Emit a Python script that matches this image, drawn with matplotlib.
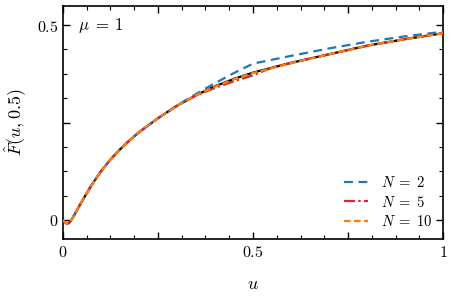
import numpy as np
import matplotlib
matplotlib.use("Agg")
import matplotlib.pyplot as plt
from matplotlib.ticker import MultipleLocator, FixedLocator, FuncFormatter

plt.rcParams['mathtext.fontset'] = 'cm'
plt.rcParams['font.family'] = 'serif'
plt.rcParams['font.serif'] = ['DejaVu Serif']

# exact curve
u_exact = [0.0, 0.005, 0.01, 0.015, 0.02, 0.03, 0.04, 0.05, 0.075, 0.1, 0.125, 0.15, 0.175,
           0.2, 0.25, 0.3, 0.35, 0.4, 0.45, 0.5, 0.6, 0.7, 0.8, 0.9, 1.0]
F_exact = [0.0, -0.006, -0.009, -0.008, -0.003, 0.013, 0.031, 0.048, 0.089, 0.125, 0.155, 0.181, 0.204,
           0.225, 0.261, 0.293, 0.32, 0.343, 0.362, 0.378, 0.403, 0.425, 0.447, 0.464, 0.479]

# N = 2
u_N2 = [0.0, 0.005, 0.01, 0.015, 0.02, 0.03, 0.04, 0.05, 0.075, 0.1, 0.125, 0.15, 0.175,
        0.2, 0.25, 0.3, 0.35, 0.4, 0.45, 0.5, 0.6, 0.7, 0.8, 0.9, 1.0]
F_N2 = [0.0, -0.006, -0.009, -0.008, -0.003, 0.013, 0.031, 0.048, 0.089, 0.125, 0.155, 0.181, 0.204,
        0.225, 0.261, 0.294, 0.323, 0.351, 0.377, 0.401, 0.421, 0.44, 0.457, 0.471, 0.483]

# N = 5
u_N5 = [0.0, 0.005, 0.01, 0.015, 0.02, 0.03, 0.04, 0.05, 0.075, 0.1, 0.125, 0.15, 0.175,
        0.2, 0.25, 0.3, 0.35, 0.4, 0.45, 0.5, 0.55, 0.6, 0.7, 0.8, 0.9, 1.0]
F_N5 = [0.0, -0.006, -0.009, -0.008, -0.003, 0.013, 0.031, 0.048, 0.089, 0.125, 0.155, 0.181, 0.204,
        0.225, 0.261, 0.293, 0.319, 0.339, 0.356, 0.371, 0.391, 0.403, 0.425, 0.447, 0.464, 0.479]

# N = 10
u_N10 = u_exact
F_N10 = [0.0, -0.006, -0.009, -0.008, -0.003, 0.013, 0.031, 0.048, 0.089, 0.125, 0.155, 0.181, 0.204,
         0.225, 0.261, 0.293, 0.32, 0.342, 0.361, 0.377, 0.402, 0.425, 0.447, 0.464, 0.479]

labels = [r'$N\;=\;2$', r'$N\;=\;5$', r'$N\;=\;10$']

fig = plt.figure(figsize=(4.53, 2.97), dpi=100)
ax = fig.add_axes([0.139, 0.195, 0.839, 0.785])

ax.plot(u_exact, F_exact, color='black', lw=1.6, zorder=2)
ax.plot(u_N2, F_N2, color='#1f77b4', lw=1.6, ls=(0, (4, 2.5)), label=labels[0], zorder=3)
ax.plot(u_N5, F_N5, color='#d62728', lw=1.6, ls=(0, (5, 1.5, 1, 1.5)), label=labels[1], zorder=3)
ax.plot(u_N10, F_N10, color='#ff7f0e', lw=1.6, ls=(0, (3, 1.5)), label=labels[2], zorder=4)

ax.set_xlim(0, 1)
ax.set_ylim(-0.049, 0.549)

ax.xaxis.set_major_locator(FixedLocator([0, 0.25, 0.5, 0.75, 1.0]))
ax.yaxis.set_major_locator(FixedLocator([0, 0.25, 0.5]))
ax.xaxis.set_minor_locator(MultipleLocator(0.0625))
ax.yaxis.set_minor_locator(MultipleLocator(0.0625))

def fmt(v, pos):
    if abs(v) < 1e-9:
        return '$0$'
    if abs(v - 0.5) < 1e-9:
        return '$0.5$'
    if abs(v - 1) < 1e-9:
        return '$1$'
    return ''

ax.xaxis.set_major_formatter(FuncFormatter(fmt))
ax.yaxis.set_major_formatter(FuncFormatter(fmt))

ax.tick_params(which='both', direction='in', top=True, right=True, labelsize=11.5)
ax.tick_params(which='major', length=5, width=1.0)
ax.tick_params(which='minor', length=3, width=0.8)
for s in ax.spines.values():
    s.set_linewidth(1.2)

ax.set_xlabel('$u$', fontsize=13, labelpad=10)
ax.set_ylabel(r'$\hat{F}(u,0.5)$', fontsize=13, labelpad=6)

ax.text(0.04, 0.5, r'$\mu\;=\;1$', fontsize=12, va='center', ha='left')

ax.legend(loc='lower right', frameon=False, fontsize=10.5, handlelength=1.7,
          handletextpad=0.9, labelspacing=0.3, borderaxespad=0.3)

fig.savefig('out.png', dpi=100)
